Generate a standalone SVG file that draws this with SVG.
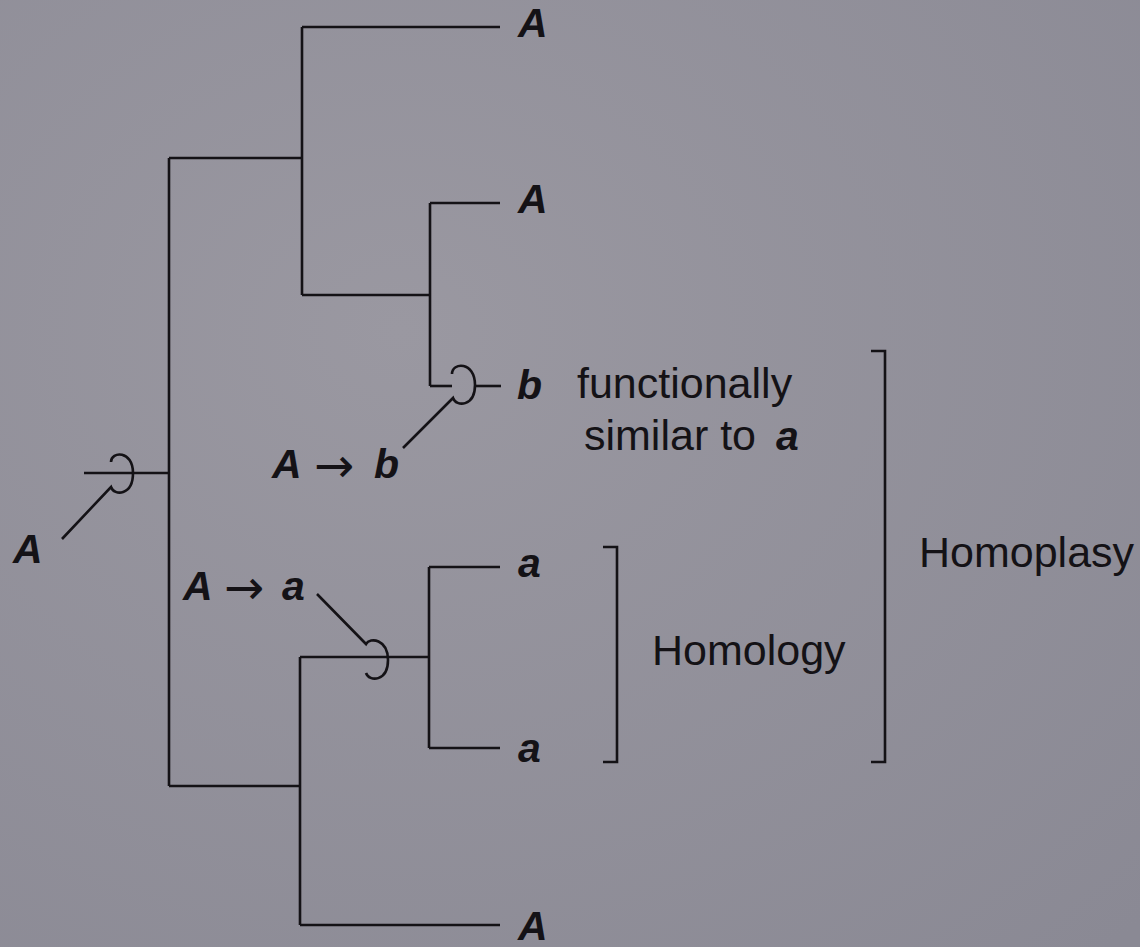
<svg xmlns="http://www.w3.org/2000/svg" width="1140" height="947" viewBox="0 0 1140 947">
  <defs>
    <radialGradient id="bg" cx="0.35" cy="0.35" r="0.9">
      <stop offset="0" stop-color="#9a98a1"/>
      <stop offset="1" stop-color="#8a8994"/>
    </radialGradient>
    <style>
      .ln { fill: none; stroke: #141216; stroke-width: 2.6; stroke-linecap: butt; stroke-linejoin: miter; }
      .bi { font-family: "Liberation Sans", Arial, sans-serif; font-weight: bold; font-style: italic; font-size: 41px; fill: #141216; }
      .rg { font-family: "Liberation Sans", Arial, sans-serif; font-weight: normal; font-style: normal; font-size: 43px; fill: #141216; }
      .ar { font-family: "DejaVu Sans", sans-serif; font-size: 48px; fill: #141216; }
    </style>
  </defs>
  <rect x="0" y="0" width="1140" height="947" fill="url(#bg)"/>

  <g id="connectors">
    <!-- root -->
    <path class="ln" d="M 84 473 L 169 473"/>
    <path class="ln" d="M 169 158 L 169 786"/>
    <!-- upper clade -->
    <path class="ln" d="M 169 158 L 302 158"/>
    <path class="ln" d="M 302 27 L 302 295"/>
    <path class="ln" d="M 302 27 L 500 27"/>
    <path class="ln" d="M 302 295 L 430 295"/>
    <path class="ln" d="M 430 203 L 430 386"/>
    <path class="ln" d="M 430 203 L 500 203"/>
    <path class="ln" d="M 430 386 L 452 386"/>
    <path class="ln" d="M 475 386 L 501 386"/>
    <!-- lower clade -->
    <path class="ln" d="M 169 786 L 300 786"/>
    <path class="ln" d="M 300 657 L 300 925"/>
    <path class="ln" d="M 300 925 L 500 925"/>
    <path class="ln" d="M 300 657 L 429 657"/>
    <path class="ln" d="M 429 567 L 429 748"/>
    <path class="ln" d="M 429 567 L 500 567"/>
    <path class="ln" d="M 429 748 L 500 748"/>
    <!-- character change loops with pointer lines -->
    <path class="ln" d="M 111 462 C 111 451, 133 450, 133 473 C 133 496, 114 496, 111 487 L 62 539"/>
    <path class="ln" d="M 452 374 C 452 362, 475 361, 475 385 C 475 407, 456 407, 453 398 L 403 448"/>
    <path class="ln" d="M 317 594 L 366 644 C 370 637, 388 639, 388 660 C 388 682, 369 682, 366 673"/>
    <!-- brackets -->
    <path class="ln" d="M 603 547 L 617 547 L 617 762 L 603 762"/>
    <path class="ln" d="M 871 351 L 885 351 L 885 762 L 871 762"/>
  </g>

  <g id="leaf-A1"><text class="bi" x="518" y="37">A</text></g>
  <g id="leaf-A2"><text class="bi" x="518" y="213">A</text></g>
  <g id="leaf-b"><text class="bi" x="517" y="399">b</text></g>
  <g id="leaf-a1"><text class="bi" x="518" y="577">a</text></g>
  <g id="leaf-a2"><text class="bi" x="518" y="762">a</text></g>
  <g id="leaf-A3"><text class="bi" x="518" y="940">A</text></g>

  <g id="root-state"><text class="bi" x="13" y="563">A</text></g>

  <g id="change-A-b">
    <text class="bi" x="272" y="478">A</text>
    <text class="ar" x="314" y="482">→</text>
    <text class="bi" x="374" y="478">b</text>
  </g>
  <g id="change-A-a">
    <text class="bi" x="183" y="600">A</text>
    <text class="ar" x="224" y="604">→</text>
    <text class="bi" x="282" y="600">a</text>
  </g>

  <g id="note-b">
    <text class="rg" x="577" y="398">functionally</text>
    <text class="rg" x="584" y="450">similar to <tspan class="bi" x="776" font-size="41">a</tspan></text>
  </g>
  <g id="homology"><text class="rg" x="652" y="665">Homology</text></g>
  <g id="homoplasy"><text class="rg" x="919" y="567">Homoplasy</text></g>
</svg>
